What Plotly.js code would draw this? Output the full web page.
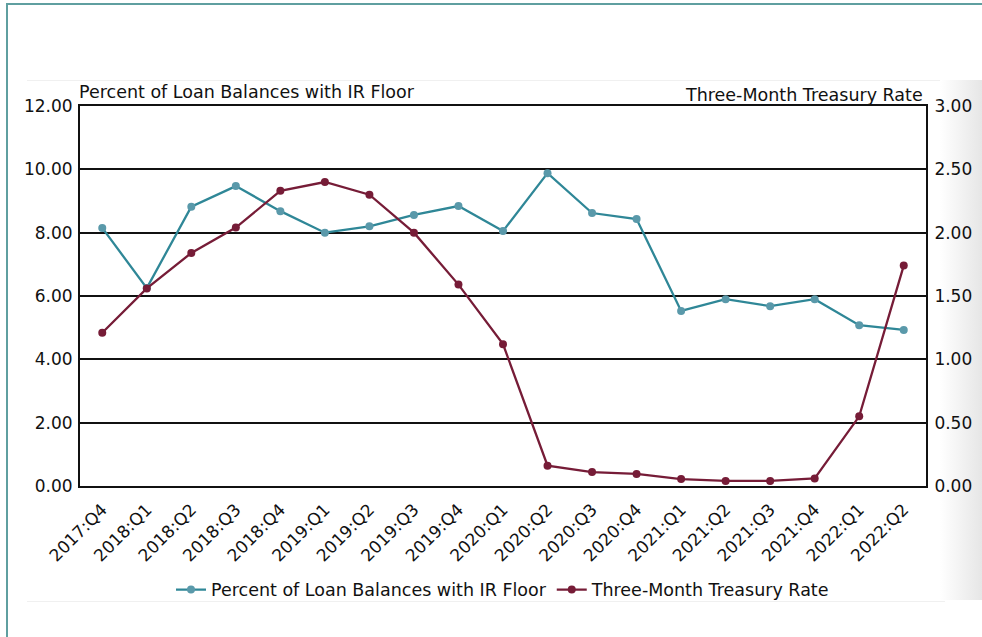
<!DOCTYPE html>
<html>
<head>
<meta charset="utf-8">
<script src="https://cdn.plot.ly/plotly-3.0.1.min.js"></script>
<style>
  html, body { margin: 0; padding: 0; width: 982px; height: 637px; overflow: hidden; background: #ffffff; }
  #frame { position: absolute; left: 6px; top: 3px; width: 990px; height: 650px; border-left: 2px solid #5f9fa0; border-top: 2px solid #5f9fa0; }
  #band { position: absolute; left: 940px; top: 80px; width: 42px; height: 520px; background: linear-gradient(to right, #ffffff, #e6e6e6); }
  #inner { position: absolute; left: 27px; top: 80px; width: 918px; height: 520px; border-top: 1px solid #f0f0f0; border-bottom: 1px solid #f0f0f0; }
  #chart { position: absolute; left: 0; top: 0; width: 982px; height: 637px; }
</style>
</head>
<body>
<div id="frame"></div>
<div id="inner"></div>
<div id="band"></div>
<div id="chart"></div>
<script>
const quarters = ["2017:Q4","2018:Q1","2018:Q2","2018:Q3","2018:Q4","2019:Q1","2019:Q2","2019:Q3","2019:Q4",
  "2020:Q1","2020:Q2","2020:Q3","2020:Q4","2021:Q1","2021:Q2","2021:Q3","2021:Q4","2022:Q1","2022:Q2"];
const pctFloor = [8.15, 6.25, 8.82, 9.47, 8.68, 8.00, 8.20, 8.56, 8.84,
  8.05, 9.88, 8.62, 8.43, 5.53, 5.90, 5.68, 5.90, 5.08, 4.93];
const tbillRate = [1.21, 1.56, 1.84, 2.04, 2.33, 2.40, 2.30, 2.00, 1.59,
  1.12, 0.16, 0.11, 0.095, 0.055, 0.04, 0.04, 0.06, 0.55, 1.74];
const leftTitle = "Percent of Loan Balances with IR Floor";
const rightTitle = "Three-Month Treasury Rate";

const FONT = "DejaVu Sans, sans-serif";
const traces = [
  { x: quarters, y: pctFloor, name: leftTitle, type: "scatter", mode: "lines+markers",
    line: { color: "#2f8797", width: 2.3 }, marker: { color: "#5a99aa", size: 8 }, yaxis: "y" },
  { x: quarters, y: tbillRate, name: rightTitle, type: "scatter", mode: "lines+markers",
    line: { color: "#761c37", width: 2.3 }, marker: { color: "#761c37", size: 8 }, yaxis: "y2" }
];
const layout = {
  width: 982, height: 637,
  paper_bgcolor: "rgba(0,0,0,0)", plot_bgcolor: "#ffffff",
  margin: { l: 80, r: 56, t: 106, b: 151 },
  font: { family: FONT, size: 17, color: "#111111" },
  showlegend: true,
  legend: { orientation: "h", x: 0.5, xanchor: "center", y: -0.273, yanchor: "middle",
    font: { family: FONT, size: 17.5, color: "#111111" }, bgcolor: "rgba(0,0,0,0)" },
  xaxis: { type: "category", range: [-0.5, 18.5], tickangle: -45, showgrid: false,
    showline: true, linecolor: "#111111", linewidth: 2, mirror: true, ticks: "", fixedrange: true,
    ticklabelstandoff: 5,
    tickfont: { family: FONT, size: 17, color: "#111111" } },
  yaxis: { range: [0, 12], dtick: 2, tickformat: ".2f", showgrid: true, gridcolor: "#111111", gridwidth: 2,
    zeroline: false, showline: true, linecolor: "#111111", linewidth: 2, ticks: "", ticklabelstandoff: 2,
    tickfont: { family: FONT, size: 17, color: "#111111" } },
  yaxis2: { range: [0, 3], dtick: 0.5, tickformat: ".2f", overlaying: "y", side: "right", showgrid: false,
    zeroline: false, showline: true, linecolor: "#111111", linewidth: 2, ticks: "", ticklabelstandoff: 3,
    tickfont: { family: FONT, size: 17, color: "#111111" } },
  annotations: [
    { text: leftTitle, xref: "paper", yref: "paper", x: 0, y: 1, xanchor: "left", yanchor: "bottom",
      showarrow: false, xshift: -3, yshift: 2, font: { family: FONT, size: 17.5, color: "#111111" } },
    { text: rightTitle, xref: "paper", yref: "paper", x: 1, y: 1, xanchor: "right", yanchor: "bottom",
      showarrow: false, xshift: -1, yshift: -1, font: { family: FONT, size: 17.5, color: "#111111" } }
  ]
};
Plotly.newPlot("chart", traces, layout, { displayModeBar: false, staticPlot: true });
</script>
</body>
</html>
